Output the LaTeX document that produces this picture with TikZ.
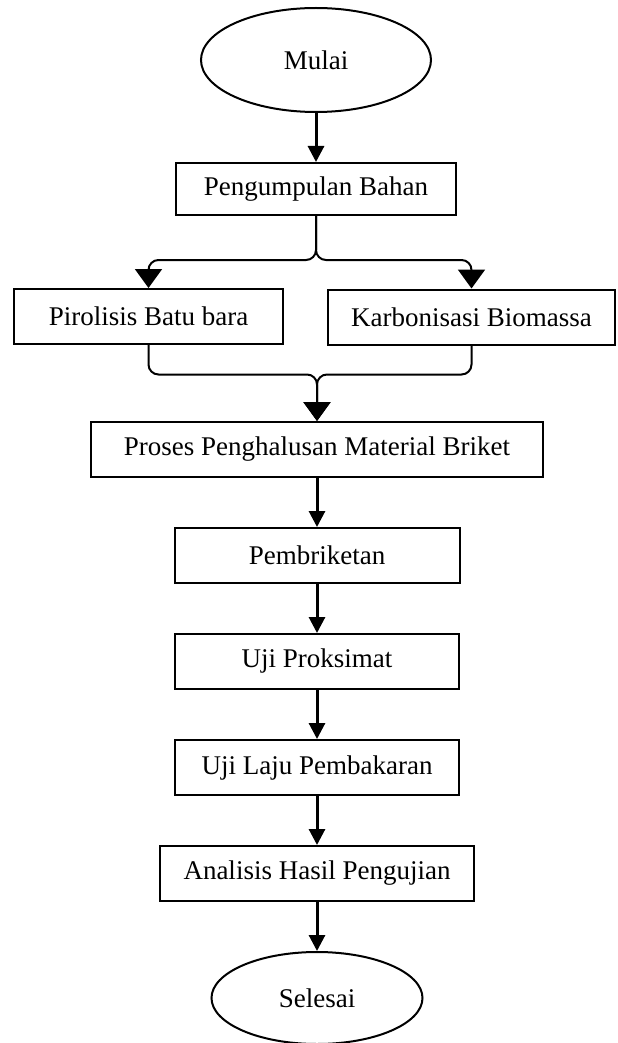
\documentclass[tikz,border=0pt]{standalone}
\usepackage{fontspec}
\setmainfont{Liberation Serif}
\usetikzlibrary{positioning,arrows.meta,shapes.geometric}

\begin{document}
\begin{tikzpicture}[
  x=0.5pt, y=-0.5pt,
  node distance=24.5pt,
  every node/.style={font=\fontsize{13.5}{15}\selectfont, align=center},
  box/.style={draw, line width=1pt, minimum height=27.5pt, inner sep=2pt},
  terminal/.style={draw, ellipse, line width=1pt},
  arr/.style={-{Triangle[length=8pt,width=8pt]}, line width=1.5pt},
  brace/.style={-{Triangle[length=9.5pt,width=13.5pt]}, line width=1pt, rounded corners=5pt}
]
\useasboundingbox (0,0) rectangle (617,1043);

\node[terminal, minimum width=115pt, minimum height=52pt] (mulai) at (316,60) {Mulai};
\node[box, minimum width=140pt, minimum height=26pt] (bahan) [below=of mulai] {Pengumpulan Bahan};

\node[box, minimum width=134.5pt] (pirolisis) at (148.5,316.5) {Pirolisis Batu bara};
\node[box, minimum width=143.5pt] (karbon) at (471.5,317) {Karbonisasi Biomassa};

\node[box, minimum width=226pt] (halus) at (317,449.5) {Proses Penghalusan Material Briket};
\node[box, minimum width=142.5pt] (briket) [below=of halus] {Pembriketan};
\node[box, minimum width=142pt] (proksimat) [below=of briket] {Uji Proksimat};
\node[box, minimum width=142pt] (laju) [below=of proksimat] {Uji Laju Pembakaran};
\node[box, minimum width=157pt] (analisis) [below=of laju] {Analisis Hasil Pengujian};
\node[terminal, minimum width=105.5pt, minimum height=46pt] (selesai) [below=of analisis] {Selesai};

\draw[arr] (mulai) -- (bahan);

% percabangan
\draw[brace] (bahan.south) -- ++(0,44) -| (pirolisis.north);
\draw[brace] (bahan.south) -- ++(0,44) -| (karbon.north);

% penggabungan
\draw[brace] (pirolisis.south) -- ++(0,29.5) -| (halus.north);
\draw[brace] (karbon.south) -- ++(0,29) -| (halus.north);

\draw[arr] (halus) -- (briket);
\draw[arr] (briket) -- (proksimat);
\draw[arr] (proksimat) -- (laju);
\draw[arr] (laju) -- (analisis);
\draw[arr] (analisis) -- (selesai);

\end{tikzpicture}
\end{document}
